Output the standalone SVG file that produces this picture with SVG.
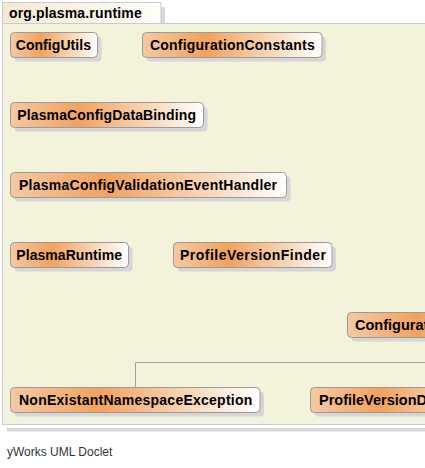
<svg xmlns="http://www.w3.org/2000/svg" width="425" height="468" viewBox="0 0 425 468">
<defs>
<linearGradient id="ng" x1="0" y1="0" x2="1" y2="0">
<stop offset="0" stop-color="#f5c9a3"/>
<stop offset="0.35" stop-color="#f2a25d"/>
<stop offset="1" stop-color="#ffffff"/>
</linearGradient>
<linearGradient id="tg" x1="0" y1="0" x2="1" y2="0">
<stop offset="0" stop-color="#f6e9d2"/>
<stop offset="1" stop-color="#fffefa"/>
</linearGradient>
<style>
.sh{fill:#d6d6d6}
.box{fill:url(#ng);stroke:#9a9a9a;stroke-width:1}
.lbl{font-family:"Liberation Sans",Arial,sans-serif;font-weight:bold;font-size:14px;fill:#000}
.wide{font-size:14.5px}
.edge{fill:none;stroke:#a0a0a0;stroke-width:1}
</style>
</defs>
<rect width="425" height="468" fill="#fff"/>
<g id="package">
<rect x="7" y="428" width="420" height="3.5" fill="#d8d8d8"/>
<rect x="161" y="7" width="4" height="16" fill="#d8d8d8"/>
<rect x="2.5" y="23.5" width="440" height="401" fill="#f3f3dc" stroke="#c6cadc"/>
<rect x="2.5" y="2.5" width="158.5" height="21" fill="url(#tg)" stroke="#c6cadc"/>
<text x="9" y="18" class="lbl" textLength="132.7" lengthAdjust="spacing">org.plasma.runtime</text>
</g>
<g id="connectors">
<path class="edge" d="M135.5,387.5 V362.5 H430"/>
</g>
<g id="ConfigUtils">
<rect class="sh" x="14.5" y="36.5" width="87" height="25" rx="4"/>
<rect class="box" x="10.5" y="32.5" width="87" height="25" rx="4"/>
<text class="lbl" x="15.7" y="50" textLength="75.3" lengthAdjust="spacing">ConfigUtils</text>
</g>
<g id="ConfigurationConstants">
<rect class="sh" x="146.5" y="36.5" width="179.5" height="25" rx="4"/>
<rect class="box" x="142.5" y="32.5" width="179.5" height="25" rx="4"/>
<text class="lbl" x="150" y="50" textLength="164.7" lengthAdjust="spacing">ConfigurationConstants</text>
</g>
<g id="PlasmaConfigDataBinding">
<rect class="sh" x="14.5" y="106.5" width="193" height="25" rx="4"/>
<rect class="box" x="10.5" y="102.5" width="193" height="25" rx="4"/>
<text class="lbl" x="17.3" y="120" textLength="178.7" lengthAdjust="spacing">PlasmaConfigDataBinding</text>
</g>
<g id="PlasmaConfigValidationEventHandler">
<rect class="sh" x="14.5" y="176.5" width="276" height="25" rx="4"/>
<rect class="box" x="10.5" y="172.5" width="276" height="25" rx="4"/>
<text class="lbl" x="19" y="190" textLength="258" lengthAdjust="spacing">PlasmaConfigValidationEventHandler</text>
</g>
<g id="PlasmaRuntime">
<rect class="sh" x="14.5" y="246.5" width="118" height="25" rx="4"/>
<rect class="box" x="10.5" y="242.5" width="118" height="25" rx="4"/>
<text class="lbl" x="16.3" y="260" textLength="105.7" lengthAdjust="spacing">PlasmaRuntime</text>
</g>
<g id="ProfileVersionFinder">
<rect class="sh" x="177.5" y="246.5" width="158.5" height="25" rx="4"/>
<rect class="box" x="173.5" y="242.5" width="158.5" height="25" rx="4"/>
<text class="lbl" x="180" y="260" textLength="146" lengthAdjust="spacing">ProfileVersionFinder</text>
</g>
<g id="Configurat">
<rect class="sh" x="351.5" y="316.5" width="200" height="25" rx="4"/>
<rect class="box" x="347.5" y="312.5" width="200" height="25" rx="4"/>
<text class="lbl wide" x="355" y="330">Configurat</text>
</g>
<g id="NonExistantNamespaceException">
<rect class="sh" x="14.5" y="391.5" width="249.5" height="25" rx="4"/>
<rect class="box" x="10.5" y="387.5" width="249.5" height="25" rx="4"/>
<text class="lbl" x="19" y="405" textLength="233.3" lengthAdjust="spacing">NonExistantNamespaceException</text>
</g>
<g id="ProfileVersionD">
<rect class="sh" x="314.5" y="391.5" width="200" height="25" rx="4"/>
<rect class="box" x="310.5" y="387.5" width="200" height="25" rx="4"/>
<text class="lbl wide" x="319" y="405">ProfileVersionD</text>
</g>
<text x="7" y="456" font-family="'Liberation Sans',Arial,sans-serif" font-size="12" fill="#333">yWorks UML Doclet</text>
</svg>
